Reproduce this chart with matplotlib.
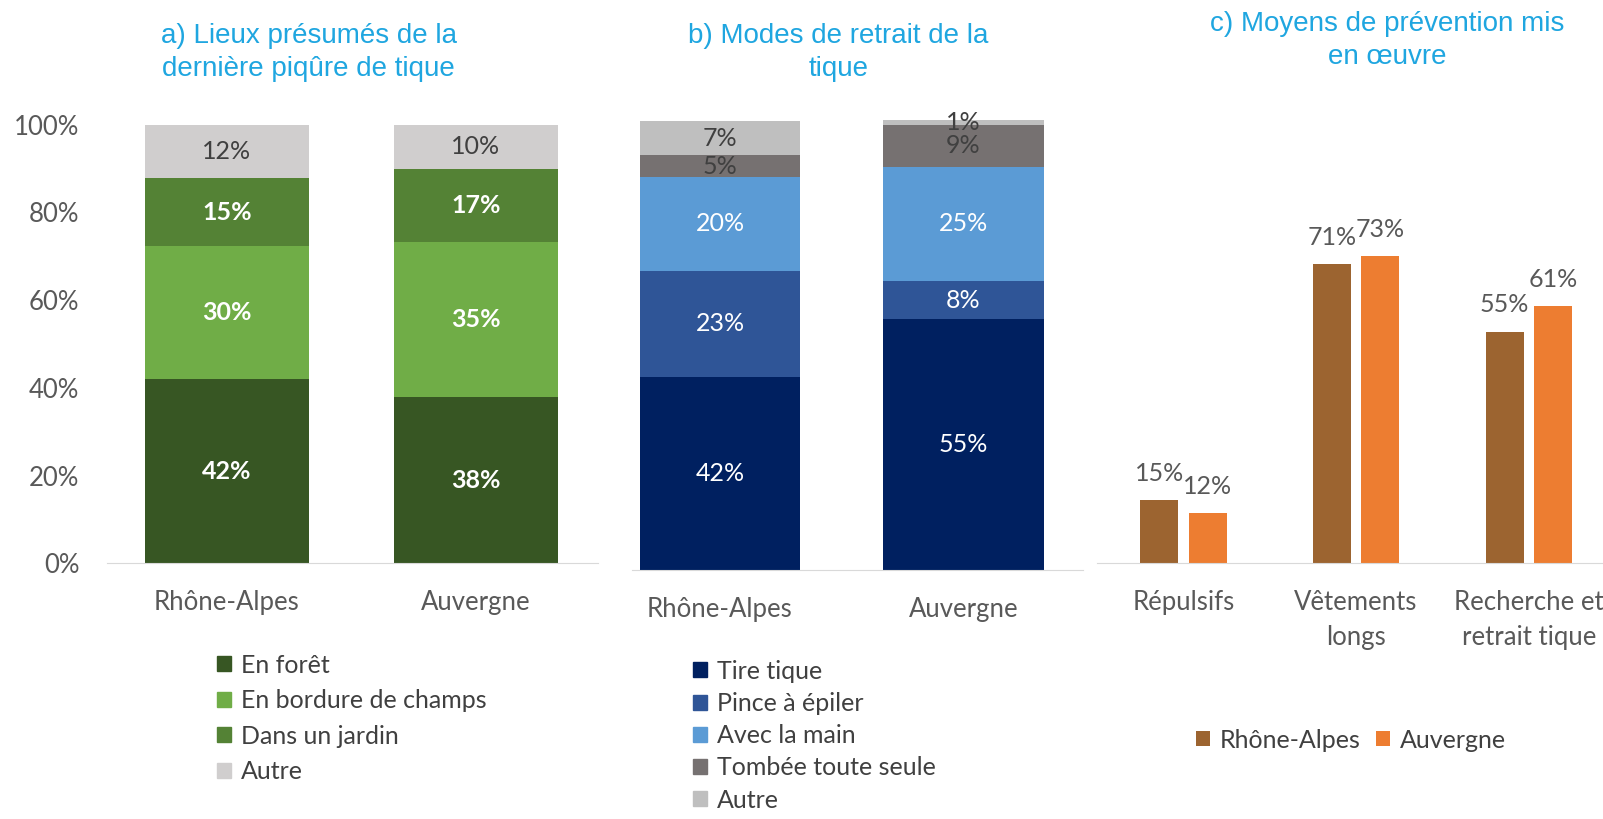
import matplotlib.pyplot as plt
from matplotlib.patches import Patch

plt.rcParams['font.family'] = ['Lato', 'DejaVu Sans']

# a) Lieux présumés de la dernière piqûre de tique (segment heights read off the bars)
regions = ["Rhône-Alpes", "Auvergne"]
lieux = ["En forêt", "En bordure de champs", "Dans un jardin", "Autre"]
lieux_vals = [[42.0, 38.0], [30.4, 35.2], [15.4, 16.8], [12.2, 10.0]]
lieux_colors = ["#375623", "#70AD47", "#548235", "#D0CECE"]
lieux_txt = ["white", "white", "white", "#404040"]

# b) Modes de retrait de la tique
modes = ["Tire tique", "Pince à épiler", "Avec la main", "Tombée toute seule", "Autre"]
modes_vals = [[42.1, 54.8], [23.3, 8.3], [20.4, 25.0], [4.9, 9.2], [7.4, 1.1]]
modes_colors = ["#002060", "#2F5597", "#5B9BD5", "#767171", "#BFBFBF"]
modes_txt = ["white", "white", "white", "#404040", "#404040"]

# c) Moyens de prévention mis en oeuvre
moyens = ["Répulsifs", "Vêtements\nlongs", "Recherche et\nretrait tique"]
prev_ra = [15, 71, 55]
prev_au = [12, 73, 61]
prev_colors = ["#9C6430", "#ED7D31"]

title_col = "#1FA6E0"
txt_col = "#595959"
FS = 18.5
W, H = 1568, 801

fig = plt.figure(figsize=(16.03, 8.19), dpi=100)


def add_ax(x0, x1, y_bot, y_top):
    return fig.add_axes([x0 / W, 1 - y_bot / H, (x1 - x0) / W, (y_bot - y_top) / H])


def stacked(ax, vals, colors, txtcols, bold):
    bottom = [0, 0]
    for v, c, tc in zip(vals, colors, txtcols):
        b = ax.bar([0, 1], v, width=0.66, bottom=bottom, color=c)
        w = 'bold' if (bold and tc == 'white') else 'normal'
        ax.bar_label(b, labels=[f"{round(x)}%" for x in v], label_type='center',
                     color=tc, fontsize=18, fontweight=w)
        bottom = [bottom[i] + v[i] for i in range(2)]
    ax.set_xticks([0, 1])
    ax.set_xticklabels(regions, fontsize=FS, color=txt_col)
    ax.set_xlim(-0.48, 1.49)
    ax.set_ylim(0, 100)
    ax.tick_params(axis='x', length=0, pad=19)
    for s in ['top', 'right', 'left']:
        ax.spines[s].set_visible(False)
    ax.spines['bottom'].set_color('#D9D9D9')


def legend(handles, anchor, **kw):
    fig.legend(handles=handles, bbox_to_anchor=anchor, frameon=False, fontsize=18,
               handlelength=0.55, handleheight=0.55, handletextpad=0.4,
               labelcolor='#404040', borderpad=0, **kw)


# panel a
ax1 = add_ax(105, 585, 551, 122)
stacked(ax1, lieux_vals, lieux_colors, lieux_txt, True)
ax1.set_yticks(range(0, 101, 20))
ax1.set_yticklabels([f"{t}%" for t in range(0, 101, 20)], fontsize=FS, color=txt_col)
ax1.tick_params(axis='y', length=0, pad=20)
fig.text(302 / W, 1 - 51 / H, "a) Lieux présumés de la\ndernière piqûre de tique",
         ha='center', va='center', color=title_col, fontsize=20,
         family='Liberation Sans', linespacing=1.35)
legend([Patch(color=c, label=l) for c, l in zip(lieux_colors, lieux)],
       (200 / W, 1 - 627 / H), loc='upper left', labelspacing=0.5)

# panel b
ax2 = add_ax(590, 1059, 557, 110)
stacked(ax2, modes_vals, modes_colors, modes_txt, False)
ax2.set_yticks([])
ax2.spines['bottom'].set_bounds(-0.36, 1.49)
ax2.tick_params(axis='x', pad=20)
fig.text(820 / W, 1 - 51 / H, "b) Modes de retrait de la\ntique",
         ha='center', va='center', color=title_col, fontsize=20,
         family='Liberation Sans', linespacing=1.35)
legend([Patch(color=c, label=l) for c, l in zip(modes_colors, modes)],
       (666 / W, 1 - 633 / H), loc='upper left', labelspacing=0.37)

# panel c
ax3 = add_ax(1073, 1580, 551, 139)
xs = range(len(moyens))
b1 = ax3.bar([x - 0.14 for x in xs], prev_ra, width=0.22, color=prev_colors[0], label=regions[0])
b2 = ax3.bar([x + 0.14 for x in xs], prev_au, width=0.22, color=prev_colors[1], label=regions[1])
ax3.bar_label(b1, labels=[f"{v}%" for v in prev_ra], padding=11, fontsize=18, color=txt_col)
ax3.bar_label(b2, labels=[f"{v}%" for v in prev_au], padding=11, fontsize=18, color=txt_col)
ax3.set_xticks(list(xs))
ax3.set_xticklabels(moyens, fontsize=FS, color=txt_col, linespacing=1.5)
ax3.set_xlim(-0.5, 2.5)
ax3.set_ylim(0, 100)
ax3.set_yticks([])
ax3.tick_params(axis='x', length=0, pad=19)
for s in ['top', 'right', 'left']:
    ax3.spines[s].set_visible(False)
ax3.spines['bottom'].set_color('#D9D9D9')
fig.text(1357 / W, 1 - 40 / H, "c) Moyens de prévention mis\nen œuvre",
         ha='center', va='center', color=title_col, fontsize=20,
         family='Liberation Sans', linespacing=1.35)
legend([b1, b2], (1158 / W, 1 - 724 / H), loc='center left', ncol=2, columnspacing=0.6)

fig.savefig("out.png", dpi=100)
